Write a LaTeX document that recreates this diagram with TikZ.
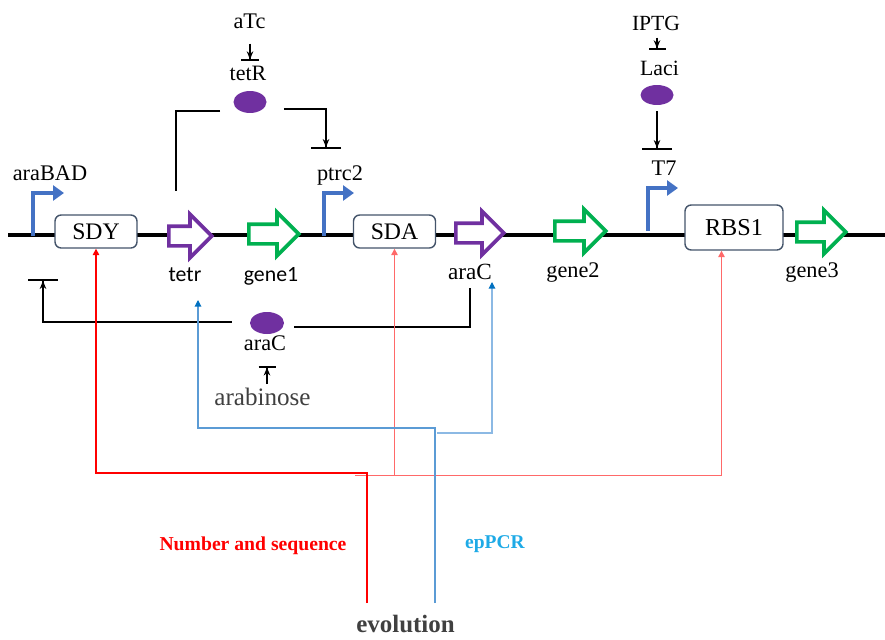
\documentclass[tikz,border=0pt]{standalone}
\usepackage{fontspec}
\setmainfont{Liberation Serif}
\newfontfamily\calibrifont{Carlito}
\usepackage{tikz}
\usetikzlibrary{shapes.geometric, shapes.arrows, arrows.meta, positioning}

\definecolor{promblue}{RGB}{68,114,196}
\definecolor{protpurple}{RGB}{112,48,160}
\definecolor{genegreen}{RGB}{0,176,80}
\definecolor{boxslate}{RGB}{68,84,106}
\definecolor{evoblue}{RGB}{91,155,213}
\definecolor{evobluelight}{RGB}{140,185,228}
\definecolor{tipblue}{RGB}{0,112,192}
\definecolor{epcrblue}{RGB}{30,170,230}
\definecolor{evored}{RGB}{255,0,0}
\definecolor{evoredlight}{RGB}{255,105,105}
\definecolor{textgray}{RGB}{64,64,64}

\begin{document}
\begin{tikzpicture}[
  x=0.02cm, y=-0.02cm,
  part/.style={rectangle, draw=boxslate, rounded corners=3.5pt, line width=0.8pt,
              fill=white, minimum width=1.64cm, minimum height=0.66cm, inner sep=0pt,
              font=\fontsize{13.5}{15}\selectfont},
  cds/.style={single arrow, draw=#1, line width=2.1pt, fill=white, anchor=west,
             inner xsep=0pt, inner ysep=0.16cm, single arrow head extend=0.24cm},
  protein/.style={ellipse, fill=protpurple, minimum width=0.66cm, minimum height=0.44cm, inner sep=0pt},
  lbl/.style={font=\fontsize{12.7}{15}\selectfont, inner sep=0pt, anchor=base},
  sanslbl/.style={font=\calibrifont\fontsize{12.4}{15}\selectfont, inner sep=0pt, anchor=base},
  promoter/.style={draw=promblue, line width=2.3pt, -{Triangle[length=0.22cm, width=0.3cm]}},
  link/.style={line width=1.1pt},
  inhib/.style={link, -{Stealth[length=0.16cm, width=0.13cm] Bar[width=#1]}},
  evoline/.style={line width=0.8pt, -{Triangle[length=0.13cm, width=0.13cm]}},
  bluearrow/.style={line width=0.6pt, -{Triangle[length=0.13cm, width=0.13cm, color=tipblue]}}
]
\useasboundingbox (0,0) rectangle (885,639);

% DNA backbone
\coordinate (dnaL) at (8,235);
\coordinate (dnaR) at (885,235);
\draw[line width=2.2pt] (dnaL) -- (dnaR);

% promoters
\draw[promoter] (33,236) |- (64,193);
\draw[promoter] (324,236) |- (354,193);
\draw[promoter] (648,231) |- (678,188);
\node[lbl] (araBAD) at (50,180) {araBAD};
\node[lbl] (ptrc2) at (340,180) {ptrc2};
\node[lbl] (T7) at (664,175) {T7};

% parts
\node[part] (SDY) at (96,231.5) {SDY};
\node[part] (SDA) at (394.5,231.5) {SDA};
\node[part, minimum width=1.96cm, minimum height=0.9cm,
      font=\fontsize{13.8}{15}\selectfont] (RBS1) at (734,227.5) {RBS1};

% coding sequences
\node[cds=protpurple, minimum height=0.86cm] (tetrgene) at (167,236) {};
\node[cds=genegreen, minimum height=1.0cm] (gene1) at (247,234) {};
\node[cds=protpurple, minimum height=0.96cm] (aracgene) at (454,233) {};
\node[cds=genegreen, minimum height=1.02cm] (gene2) at (553,231) {};
\node[cds=genegreen, minimum height=0.98cm] (gene3) at (795,232) {};
\node[sanslbl] (tetrlbl) at (185,281) {tetr};
\node[sanslbl] (gene1lbl) at (271,281) {gene1};
\node[lbl, font=\fontsize{13.2}{15}\selectfont] (araClbl) at (470,279.5) {araC};
\node[lbl] (gene2lbl) at (573,277) {gene2};
\node[lbl] (gene3lbl) at (812,277) {gene3};

% tetR loop
\node[lbl] (aTc) at (249.5,29) {aTc};
\node[lbl, font=\fontsize{12.5}{15}\selectfont] (tetRlbl) at (248,80) {tetR};
\node[protein] (tetRp) at (250,102) {};
\coordinate (tetRsrc) at (176,191);
\coordinate (ptrcOp) at (326,149);
\draw[inhib=0.36cm] ([yshift=-0.28cm]aTc.south -| tetRp.center) -- ([yshift=0.08cm]tetRlbl.north -| tetRp.center);
\draw[link] (tetRp.west) ++(-13,9) -| (tetRsrc);
\draw[inhib=0.6cm] (tetRp.east) ++(17,7) -| (ptrcOp);

% LacI loop
\node[lbl, font=\fontsize{12.3}{15}\selectfont] (IPTG) at (656,31) {IPTG};
\node[lbl, font=\fontsize{12.4}{15}\selectfont] (Lacilbl) at (659.5,75) {Laci};
\node[protein, minimum height=0.4cm] (LaciP) at (657,95) {};
\coordinate (T7op) at (657,150);
\draw[inhib=0.34cm] ([yshift=-0.12cm]IPTG.south -| LaciP.center) -- ([yshift=0.2cm]Lacilbl.north -| LaciP.center);
\draw[inhib=0.6cm] (LaciP.south) ++(0,6) -- (T7op);

% araC loop
\node[protein, minimum width=0.68cm] (araCp) at (267,323) {};
\node[lbl] (araClow) at (265,350) {araC};
\node[lbl, font=\fontsize{14.3}{16}\selectfont, text=textgray] (arabinose) at (262.5,405.5) {arabinose};
\coordinate (araBADop) at (43,279);
\coordinate (aracsrc) at (470,288);
\draw[inhib=0.34cm] ([yshift=0.07cm]arabinose.north -| araCp.center) -- ([yshift=-0.3cm]araClow.south -| araCp.center);
\draw[inhib=0.6cm] (araCp.west) ++(-18,-1) -| (araBADop);
\draw[link] (araCp.east) ++(10,4) -| (aracsrc);

% evolution
\node[font=\bfseries\fontsize{11.2}{13}\selectfont, text=evored, inner sep=0pt, anchor=base] (numseq) at (253,550.5) {Number and sequence};
\node[font=\bfseries\fontsize{11.1}{13}\selectfont, text=epcrblue, inner sep=0pt, anchor=base] (epPCR) at (495,548) {epPCR};
\node[font=\bfseries\fontsize{14.2}{16}\selectfont, text=textgray, inner sep=0pt, anchor=base] (evolution) at (405.5,632.5) {evolution};
\coordinate (redsrc) at (367,603);
\coordinate (bluesrc) at (435,603);
\coordinate (tetrhit) at (198,300);
\coordinate (arachit) at (492,282);
\draw[evoline, draw=evoredlight] (355,475.5) -| (SDA.south);
\draw[evoline, draw=evoredlight] (394.5,475.5) -| ([xshift=-0.25cm]RBS1.south);
\draw[evoline, draw=evored, line width=0.9pt] (redsrc) |- (96,473) -- (SDY.south);
\draw[bluearrow, draw=evobluelight] (437,433) -| (arachit);
\draw[bluearrow, draw=evoblue] (bluesrc) |- (198,428) -- (tetrhit);

\end{tikzpicture}
\end{document}
